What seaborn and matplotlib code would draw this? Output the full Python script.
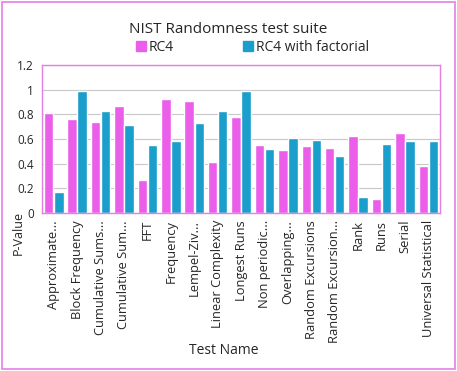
import seaborn as sns
import matplotlib.pyplot as plt
import matplotlib.patches as mpatches
import pandas as pd

# data
tests = ["Approximate...", "Block Frequency", "Cumulative Sums...", "Cumulative Sum...",
         "FFT", "Frequency", "Lempel-Ziv...", "Linear Complexity", "Longest Runs",
         "Non periodic...", "Overlapping...", "Random Excursions", "Random Excursion...",
         "Rank", "Runs", "Serial", "Universal Statistical"]
rc4 = [0.81, 0.76, 0.74, 0.87, 0.27, 0.92, 0.91, 0.41, 0.78,
       0.55, 0.51, 0.54, 0.53, 0.62, 0.11, 0.65, 0.38]
rc4_fact = [0.17, 0.99, 0.83, 0.71, 0.55, 0.58, 0.73, 0.83, 0.99,
            0.52, 0.61, 0.59, 0.46, 0.13, 0.56, 0.58, 0.58]
series = ["RC4", "RC4 with factorial"]
colors = ["#EA5EEA", "#1A9ECB"]

df = pd.DataFrame({"test": tests * 2,
                   "value": rc4 + rc4_fact,
                   "series": [series[0]] * len(tests) + [series[1]] * len(tests)})

sns.set_theme(style="white")
plt.rcParams['font.family'] = ['Open Sans', 'DejaVu Sans']

fig = plt.figure(figsize=(4.57, 3.71), dpi=100)
ax = fig.add_axes([0.092, 0.426, 0.871, 0.399])

sns.barplot(data=df, x="test", y="value", hue="series", palette=colors,
            width=0.86, gap=0.06, ax=ax, legend=False, saturation=1)

ax.set_ylim(0, 1.2)
ax.set_yticks([0, 0.2, 0.4, 0.6, 0.8, 1, 1.2])
ax.set_yticklabels(["0", "0.2", "0.4", "0.6", "0.8", "1", "1.2"], fontsize=8.5)
ax.set_xlim(-0.5, len(tests) - 0.5)
ax.yaxis.grid(True, color="#C8C8C8", linewidth=0.8)
ax.set_axisbelow(True)
ax.tick_params(axis="x", labelrotation=90, labelsize=9.3, length=0, pad=5)
ax.tick_params(axis="y", length=0, pad=6)
ax.set_xlabel("")
ax.set_ylabel("")
for s in ax.spines.values():
    s.set_color("#E47FE4")
    s.set_linewidth(1.0)

fig.text(0.5, 0.92, "NIST Randomness test suite", ha="center", va="center", fontsize=11)
handles = [mpatches.Patch(color=c, label=l) for c, l in zip(colors, series)]
fig.legend(handles=handles, loc="center", bbox_to_anchor=(0.553, 0.872), ncol=2,
           frameon=False, fontsize=10, handlelength=0.7, handleheight=0.7,
           handletextpad=0.2, columnspacing=5.0)
fig.text(0.04, 0.372, "P-Value", rotation=90, ha="center", va="center", fontsize=9)
fig.text(0.49, 0.055, "Test Name", ha="center", va="center", fontsize=10)

border = mpatches.Rectangle((0.005, 0.005), 0.99, 0.99, transform=fig.transFigure,
                            fill=False, edgecolor="#E47FE4", linewidth=1.2)
fig.patches.append(border)

fig.savefig("out.png", dpi=100)
